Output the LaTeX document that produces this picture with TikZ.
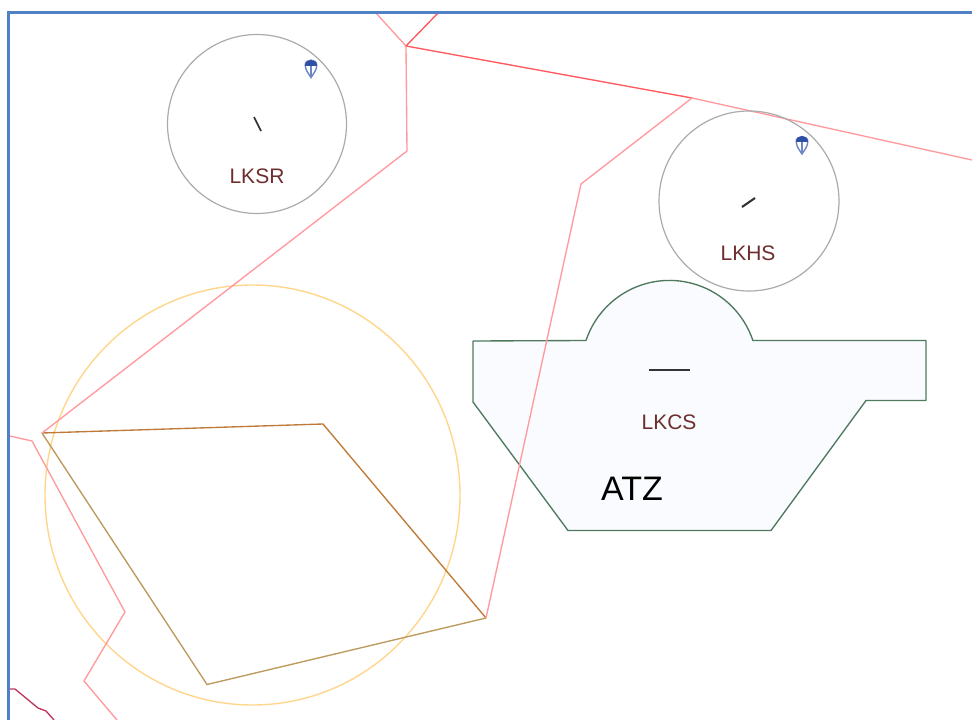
\documentclass[tikz,border=0pt]{standalone}
\usepackage{fontspec}
\setmainfont{Liberation Sans}
\definecolor{frameblue}{HTML}{4F81C4}
\definecolor{airred}{HTML}{FF9A9E}
\definecolor{strongred}{HTML}{FF5A60}
\definecolor{crimson}{HTML}{C0385E}
\definecolor{tmaorange}{HTML}{FFD68C}
\definecolor{ctrtop}{HTML}{C07A38}
\definecolor{ctrside}{HTML}{BC9A5E}
\definecolor{atzgreen}{HTML}{4F7A5F}
\definecolor{atzfill}{HTML}{FAFBFE}
\definecolor{labelbrown}{HTML}{6E2E2E}
\definecolor{chutedark}{HTML}{2F4FA5}
\definecolor{chuteline}{HTML}{6F86C4}
\tikzset{
  airway/.style={draw=airred,line width=1.35pt,line join=round},
  airstrong/.style={draw=strongred,line width=1.35pt},
  zonecircle/.style={draw=black!33,line width=1.2pt},
  runway/.style={draw=black!80,line width=1.7pt},
  zonelabel/.style={text=labelbrown,font=\fontsize{21}{24}\selectfont,inner sep=0pt},
  chute/.pic={
    \path[draw=chuteline,fill=white,line width=1.4pt]
      (-5.8,-3.5) .. controls (-5.8,-10) and (5.8,-10) .. (5.8,-3.5)
      .. controls (5.8,1.5) and (2.5,5) .. (0,9)
      .. controls (-2.5,5) and (-5.8,1.5) .. (-5.8,-3.5) -- cycle;
    \fill[chutedark] (-6.3,-3) .. controls (-6.3,-10.8) and (6.3,-10.8) .. (6.3,-3) -- cycle;
    \draw[chuteline,line width=1.2pt] (0,-3) -- (0,8);
  }
}
\begin{document}
\begin{tikzpicture}[x=1pt,y=-1pt]
\useasboundingbox (0,0) rectangle (972,720);
\fill[white] (0,0) rectangle (972,720);
% shared vertices
\coordinate (apex) at (406,46);
\coordinate (bend) at (692,98);
\coordinate (west) at (42,433);
\coordinate (south) at (486,618);
\coordinate (nw) at (323,424);
\coordinate (sw) at (207,684.5);
% ATZ
\path[fill=atzfill,draw=atzgreen,line width=1.35pt,line join=round]
  (473,341) -- (586,340.5) arc[start angle=198.5,end angle=341.5,radius=88]
  -- (926,340.5) -- (926,400.5) -- (866,400.5) -- (771,530.5) -- (568,530.5) -- (473,402) -- cycle;
% TMA circle
\draw[tmaorange,line width=1.4pt] (252.5,495) ellipse[x radius=207.5,y radius=210];
% CTR polygon
\draw[ctrtop,line width=1.35pt] (west) -- (nw) -- (south);
\draw[ctrside,line width=1.35pt] (south) -- (sw) -- (west);
% airways
\draw[airway] (375,12) -- (apex);
\draw[airstrong] (439,12) -- (apex) -- (bend);
\draw[airway] (apex) -- (407,151) -- (west);
\draw[airway] (bend) -- (972,160);
\draw[airway] (bend) -- (581,184) -- (south);
\draw[airway] (10,436) -- (32,441) -- (125,612) -- (84,681) -- (117,720);
\draw[crimson,line width=1.35pt,line join=round] (10,689) -- (15,689) -- (38,708) -- (46,711) -- (54,720);
% aerodrome circles
\draw[zonecircle] (257,124) circle[radius=89.5];
\draw[zonecircle] (749,201) circle[radius=90];
% runways
\draw[runway] (254,117) -- (261,131);
\draw[runway,line width=2.1pt] (742,207) -- (755,198);
\draw[runway,line width=2pt] (649,370) -- (690,370);
% parachutes
\pic at (311,68.5) {chute};
\pic at (802,145) {chute};
% labels
\node[zonelabel] (lksr) at (257,176.5) {LKSR};
\node[zonelabel] (lkhs) at (748,253) {LKHS};
\node[zonelabel] (lkcs) at (669,422.5) {LKCS};
\node[inner sep=0pt,font=\fontsize{34}{38}\selectfont] (atz) at (632,488.5) {ATZ};
% frame
\draw[frameblue,line width=3pt] (973,12) -- (8.5,12) -- (8.5,721);
\end{tikzpicture}
\end{document}
